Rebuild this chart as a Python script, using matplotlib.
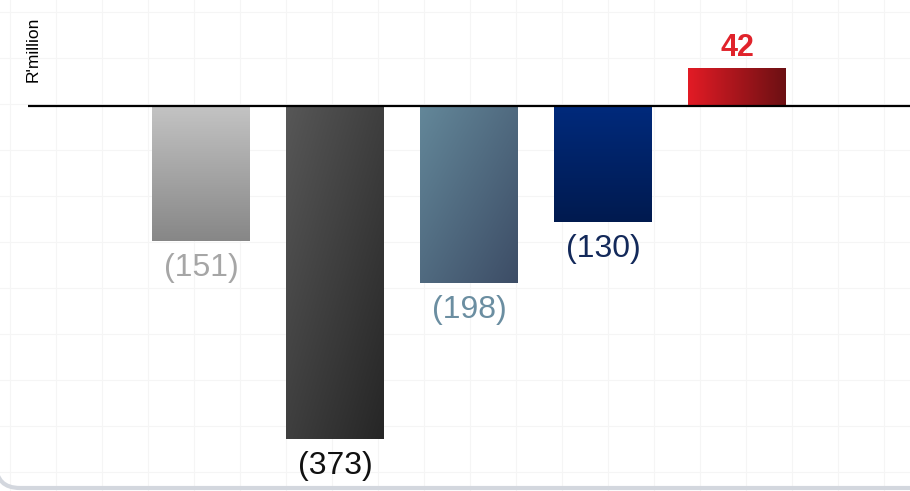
import numpy as np
import matplotlib.pyplot as plt
from matplotlib.colors import LinearSegmentedColormap, to_rgb
from matplotlib.patches import FancyBboxPatch

values = [-151, -373, -198, -130, 42]
labels = ['(151)', '(373)', '(198)', '(130)', '42']
label_colors = ['#a6a6a6', '#111111', '#6b8ea1', '#13295a', '#e0232b']
# (start, end, direction) for each bar gradient
grads = [('#c3c3c3', '#878787', 'v'),
         ('#575757', '#262626', 'd'),
         ('#638799', '#3d4d66', 'd'),
         ('#002a7c', '#001a4f', 'v'),
         ('#e21b25', '#6c1013', 'h')]

plt.rcParams['font.family'] = ['Liberation Sans', 'DejaVu Sans']

fig = plt.figure(figsize=(9.1, 4.91), dpi=100)
fig.patch.set_facecolor('white')

# faint background grid
bg = fig.add_axes([0, 0, 1, 1])
bg.set_xlim(0, 910)
bg.set_ylim(491, 0)
bg.axis('off')
for gx in np.arange(10, 910, 46):
    bg.axvline(gx, color='#f5f5f5', lw=0.8, zorder=0)
for gy in np.arange(12, 491, 46):
    bg.axhline(gy, color='#f5f5f5', lw=0.8, zorder=0)
# bottom rounded frame edge
bg.add_patch(FancyBboxPatch((-4, -600), 1000, 1088, boxstyle='round,pad=0,rounding_size=24',
                            fc='none', ec='#d3d7de', lw=3, zorder=1))

ax = fig.add_axes([28 / 910, 0, 882 / 910, 1])
ax.set_facecolor('none')
x = np.arange(len(values))
bars = ax.bar(x, values, width=0.725, color='none', zorder=3)
ax.set_xlim(-1.29, 5.29)
ax.set_ylim(-431.1, 118.7)
ax.axis('off')
ax.axhline(0, color='black', lw=1.6, zorder=5)

for b, (c0, c1, d) in zip(bars, grads):
    x0, y0 = b.get_x(), b.get_y()
    w, h = b.get_width(), b.get_height()
    yy, xx = np.mgrid[0:1:100j, 0:1:100j]
    if d == 'v':
        t = yy
    elif d == 'h':
        t = xx
    else:
        t = (xx + yy) / 2
    cmap = LinearSegmentedColormap.from_list('g', [to_rgb(c0), to_rgb(c1)])
    ybot, ytop = min(y0, y0 + h), max(y0, y0 + h)
    im = ax.imshow(t, cmap=cmap, extent=[x0, x0 + w, ybot, ytop], origin='upper',
                   aspect='auto', zorder=4, vmin=0, vmax=1)
    im.set_clip_path(b)

for i, (v, lab, col) in enumerate(zip(values, labels, label_colors)):
    if v > 0:
        ax.text(i, v + 23, lab, ha='center', va='center', fontsize=22, color=col,
                fontweight='bold', zorder=6)
    else:
        ax.text(i, v - 30, lab, ha='center', va='center', fontsize=23, color=col, zorder=6)

fig.text(33 / 910, 1 - 49 / 491, "R'million", rotation=90, ha='center', va='center',
         fontsize=12.5, color='black')

fig.savefig('out.png', dpi=100)
